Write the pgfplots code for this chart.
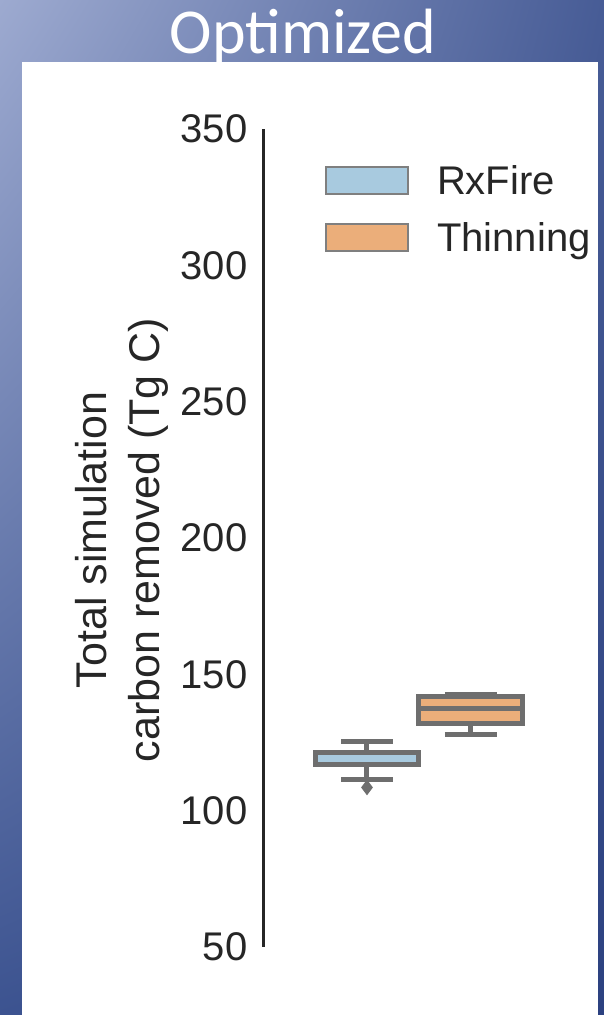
\documentclass[border=0pt]{standalone}
\usepackage{pgfplots}
\pgfplotsset{compat=1.18}
\usepgfplotslibrary{statistics}
\usetikzlibrary{shadings}
\usepackage{fontspec}
\setmainfont{Liberation Sans}
\newfontfamily\calibri{Carlito}
\definecolor{bgUL}{HTML}{9DAAD0}
\definecolor{bgUR}{HTML}{475C96}
\definecolor{bgLL}{HTML}{3C5390}
\definecolor{bgLR}{HTML}{2C4180}
\definecolor{rxblue}{HTML}{A8CADF}
\definecolor{thorange}{HTML}{EBAE7A}
\definecolor{edgegray}{HTML}{6E6E6E}
\definecolor{leggray}{HTML}{7F7F7F}
\definecolor{txtgray}{HTML}{262626}
\begin{document}
\begin{tikzpicture}
\shade[upper left=bgUL, upper right=bgUR, lower left=bgLL, lower right=bgLR] (0pt,0pt) rectangle (604pt,1015pt);
\fill[white] (22pt,0pt) rectangle (598pt,953pt);
\node[font=\calibri\fontsize{64}{64}\selectfont, text=white, anchor=base, inner sep=0pt] at (303pt,961pt) {Optimized};
\begin{axis}[
  at={(263pt,68pt)}, anchor=south west,
  scale only axis, width=312pt, height=818pt,
  xmin=-0.6, xmax=0.6, ymin=50, ymax=350,
  axis x line=none, axis y line*=left,
  axis line style={line width=3pt, color=txtgray},
  ytick={50,100,...,350}, major tick length=0pt,
  /pgf/number format/assume math mode=true,
  yticklabel style={font=\fontsize{40}{48}\selectfont, text=txtgray, xshift=-12pt},
  ylabel={Total simulation\\carbon removed (Tg C)},
  ylabel style={font=\fontsize{43}{53}\selectfont, text=txtgray, align=center, at={(rel axis cs:-0.4535,0.4975)}, anchor=center},
  clip=false,
  boxplot/draw direction=y,
  legend style={at={(rel axis cs:0.199,0.955)}, anchor=north west, draw=none, fill=none,
    inner sep=0pt, outer sep=0pt, row sep=28pt, font=\fontsize{40}{48}\selectfont, text=txtgray,
    nodes={inner sep=0pt, text depth=0pt},
    /tikz/every odd column/.append style={column sep=28pt}},
  legend cell align=left,
]
\addplot[forget plot, boxplot prepared={draw position=-0.2, lower whisker=111.3, lower quartile=117.0, median=121.2, upper quartile=121.2, upper whisker=125.3, box extend=0.4, whisker extend=0.2},
  draw=edgegray, fill=rxblue, line width=5pt, mark=diamond*, mark size=7pt, mark options={fill=edgegray, draw=edgegray, line width=1pt}]
  coordinates {(0,108.5)};
\addplot[forget plot, boxplot prepared={draw position=0.2, lower whisker=127.8, lower quartile=132.0, median=137.4, upper quartile=142.0, upper whisker=142.6, box extend=0.4, whisker extend=0.2},
  draw=edgegray, fill=thorange, line width=5pt]
  coordinates {};
\addlegendimage{legend image code/.code={\draw[fill=rxblue, draw=leggray, line width=2pt] (0pt,-13.5pt) rectangle (82pt,13.5pt);}}
\addlegendentry{RxFire}
\addlegendimage{legend image code/.code={\draw[fill=thorange, draw=leggray, line width=2pt] (0pt,-13.5pt) rectangle (82pt,13.5pt);}}
\addlegendentry{Thinning}
\end{axis}
\end{tikzpicture}
\end{document}
